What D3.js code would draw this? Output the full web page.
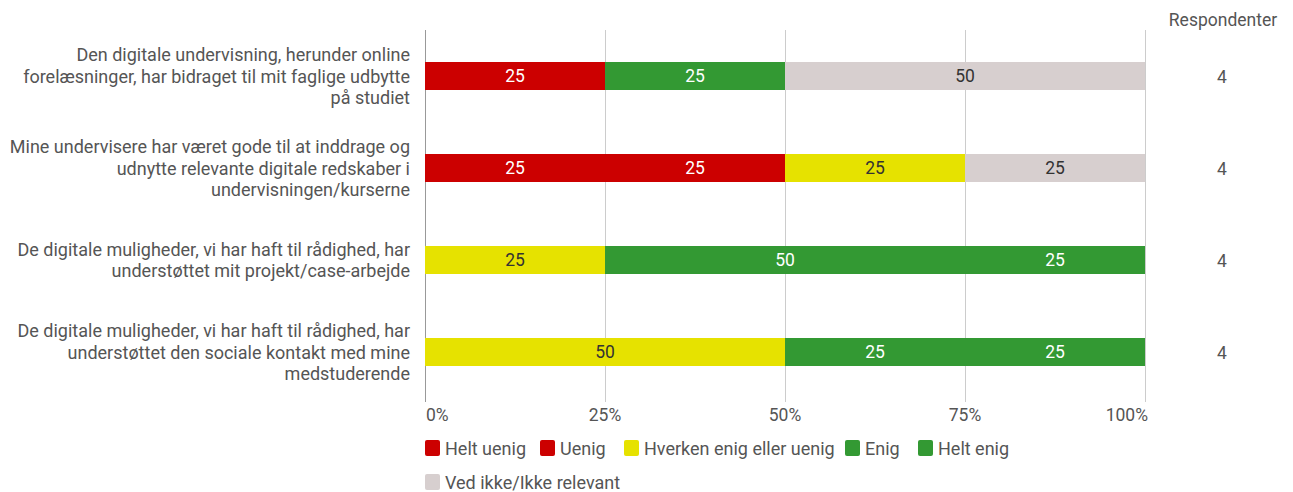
<!DOCTYPE html>
<html><head><meta charset="utf-8">
<script src="https://cdn.jsdelivr.net/npm/d3@7"></script>
<style>body{margin:0;background:#fff;font-family:Roboto,sans-serif}</style>
</head><body><svg id="c" width="1293" height="492"></svg>
<script>
const questions = [
  ["Den digitale undervisning, herunder online","forelæsninger, har bidraget til mit faglige udbytte","på studiet"],
  ["Mine undervisere har været gode til at inddrage og","udnytte relevante digitale redskaber i","undervisningen/kurserne"],
  ["De digitale muligheder, vi har haft til rådighed, har","understøttet mit projekt/case-arbejde"],
  ["De digitale muligheder, vi har haft til rådighed, har","understøttet den sociale kontakt med mine","medstuderende"]
];
const seriesNames = ["Helt uenig","Uenig","Hverken enig eller uenig","Enig","Helt enig","Ved ikke/Ikke relevant"];
const heltUenig = [25,25,0,0];
const uenig = [0,25,0,0];
const hverken = [0,25,25,50];
const enig = [25,0,50,25];
const heltEnig = [0,0,25,25];
const vedIkke = [50,25,0,0];
const respondents = [4,4,4,4];
const tickValues = [0,25,50,75,100];
const colors = ["#cc0000","#cc0000","#e6e200","#339933","#339933","#d7cfcf"];
const textColors = ["#fff","#fff","#333","#fff","#fff","#333"];

const svg = d3.select("#c");
const x = d3.scaleLinear().domain([0,100]).range([425,1145]);
const y = d3.scaleBand().domain(d3.range(4)).range([30,398]).padding(0);
const barH = 28;
const seriesData = [heltUenig,uenig,hverken,enig,heltEnig,vedIkke];

// grid
svg.append("g").selectAll("line").data(tickValues).join("line")
  .attr("x1",d=>x(d)+0.5).attr("x2",d=>x(d)+0.5).attr("y1",30).attr("y2",402)
  .attr("stroke",d=>d===0?"#999":"#ccc").attr("stroke-width",1);

// tick labels
svg.append("g").selectAll("text").data(tickValues).join("text")
  .attr("x",d=>d===0?x(d)+1:d===100?x(d)+3:x(d))
  .attr("y",421)
  .attr("text-anchor",d=>d===0?"start":d===100?"end":"middle")
  .attr("font-size",17.5).attr("fill","#555").text(d=>d+"%");

// bars
const stack = questions.map((q,i)=>{
  let acc=0; return seriesData.map((s,k)=>{const v=s[i]; const r={k,i,x0:acc,x1:acc+v,v}; acc+=v; return r;});
}).flat().filter(d=>d.v>0);
const g = svg.append("g");
g.selectAll("rect").data(stack).join("rect")
  .attr("x",d=>x(d.x0)).attr("width",d=>x(d.x1)-x(d.x0))
  .attr("y",d=>y(d.i)+y.bandwidth()/2-barH/2).attr("height",barH)
  .attr("fill",d=>colors[d.k]);
g.selectAll("text").data(stack).join("text")
  .attr("x",d=>(x(d.x0)+x(d.x1))/2).attr("y",d=>y(d.i)+y.bandwidth()/2+6)
  .attr("text-anchor","middle").attr("font-size",17.5).attr("fill",d=>textColors[d.k])
  .text(d=>d.v);

// category labels
questions.forEach((lines,i)=>{
  const cy = y(i)+y.bandwidth()/2;
  const lh = 21.5;
  const start = cy - (lines.length-1)*lh/2;
  const t = svg.append("text").attr("text-anchor","end").attr("font-size",18).attr("fill","#555");
  lines.forEach((l,j)=>t.append("tspan").attr("x",410).attr("y",start+j*lh+6.5).text(l));
});

// respondents
svg.append("text").attr("x",1223).attr("y",26).attr("text-anchor","middle").attr("font-size",17.5).attr("fill","#555").text("Respondenter");
svg.append("g").selectAll("text").data(respondents).join("text")
  .attr("x",1222).attr("y",(d,i)=>y(i)+y.bandwidth()/2+6.5).attr("text-anchor","middle")
  .attr("font-size",17.5).attr("fill","#555").text(d=>d);

// legend
const legendPos = [[425,448],[540,448],[624,448],[845,448],[918,448],[425,482]];
const lg = svg.append("g").selectAll("g").data(seriesNames).join("g")
  .attr("transform",(d,i)=>`translate(${legendPos[i][0]},${legendPos[i][1]})`);
lg.append("rect").attr("x",0).attr("y",-8).attr("width",15).attr("height",16).attr("rx",2).attr("fill",(d,i)=>colors[i]);
lg.append("text").attr("x",20).attr("y",6.5).attr("font-size",18).attr("fill","#555").text(d=>d);
</script></body></html>
